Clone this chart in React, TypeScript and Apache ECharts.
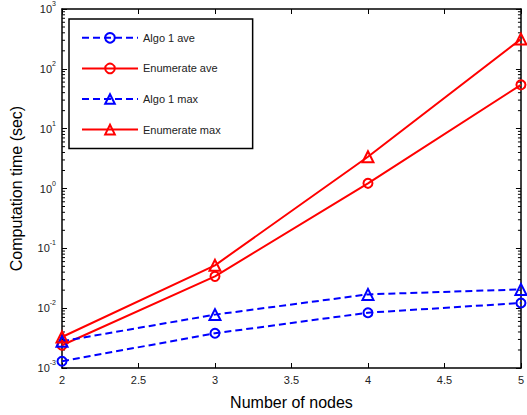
import React, { useEffect, useRef } from "react";
import * as echarts from "echarts";

const nodes = [2, 3, 4, 5];
const algo1Ave = [0.0013, 0.0038, 0.0084, 0.0122];
const enumerateAve = [0.0024, 0.034, 1.22, 54];
const algo1Max = [0.0028, 0.0078, 0.017, 0.0206];
const enumerateMax = [0.0033, 0.052, 3.4, 314];
const decadeExponents = [-3, -2, -1, 0, 1, 2];
const minorMultipliers = [2, 3, 4, 5, 6, 7, 8, 9];

const X_MIN = 2;
const X_MAX = 5;
const Y_MIN = 0.001;
const Y_MAX = 1000;

const FONT = "'Liberation Sans', Arial, Helvetica, sans-serif";
const BLUE = "#0000ff";
const RED = "#ff0000";

export default function App() {
  const ref = useRef<HTMLDivElement>(null);

  useEffect(() => {
    if (!ref.current) return;
    const chart = echarts.init(ref.current, undefined, { renderer: "svg" });

    const minorValues: number[][] = [];
    decadeExponents.forEach((e) => {
      minorMultipliers.forEach((m) => {
        minorValues.push([X_MIN, m * Math.pow(10, e)]);
      });
    });

    const pairs = (ys: number[]) => nodes.map((x, i) => [x, ys[i]]);

    const lineSeries = (
      name: string,
      ys: number[],
      color: string,
      dashed: boolean,
      symbol: string,
      symbolSize: number
    ) => ({
      type: "line",
      name,
      data: pairs(ys),
      xAxisIndex: 0,
      yAxisIndex: 0,
      symbol,
      symbolSize,
      showAllSymbol: true,
      clip: true,
      lineStyle: { color, width: 2, type: dashed ? [7, 4] : "solid" },
      itemStyle: { color: "rgba(255,255,255,0)", borderColor: color, borderWidth: 2 },
      emphasis: { disabled: true },
      z: 3,
    });

    const yLabel = {
      fontFamily: FONT,
      margin: 6,
      formatter: (v: number) => {
        const e = Math.round(Math.log10(v));
        return `{b|10}{s|${e}}`;
      },
      rich: {
        b: { fontSize: 11, color: "#222", fontFamily: FONT, lineHeight: 18 },
        s: { fontSize: 7, color: "#222", fontFamily: FONT, verticalAlign: "top" },
      },
    };

    chart.setOption({
      animation: false,
      textStyle: { fontFamily: FONT },
      grid: { left: 56, right: 2, top: 6, bottom: 39, containLabel: false },
      legend: {
        orient: "vertical",
        left: 69,
        top: 19,
        padding: [13, 32, 13, 12],
        itemWidth: 56,
        itemHeight: 12,
        itemGap: 19,
        borderColor: "#000",
        borderWidth: 1.5,
        backgroundColor: "#fff",
        textStyle: { fontSize: 11, color: "#222", fontFamily: FONT },
        data: ["Algo 1 ave", "Enumerate ave", "Algo 1 max", "Enumerate max"],
        selectedMode: false,
      },
      xAxis: [
        {
          type: "value",
          min: X_MIN,
          max: X_MAX,
          interval: 0.5,
          position: "bottom",
          name: "Number of nodes",
          nameLocation: "middle",
          nameGap: 26,
          nameTextStyle: { fontSize: 16, color: "#000", fontFamily: FONT },
          axisLine: { show: true, onZero: false, lineStyle: { color: "#000", width: 1.5 } },
          axisTick: { show: true, inside: true, length: 5, lineStyle: { color: "#000", width: 1 } },
          axisLabel: { fontSize: 11, color: "#222", margin: 6, fontFamily: FONT },
          splitLine: { show: false },
        },
        {
          type: "value",
          min: X_MIN,
          max: X_MAX,
          interval: 0.5,
          position: "top",
          axisLine: { show: true, onZero: false, lineStyle: { color: "#000", width: 1.5 } },
          axisTick: { show: true, inside: true, length: 5, lineStyle: { color: "#000", width: 1 } },
          axisLabel: { show: false },
          splitLine: { show: false },
        },
      ],
      yAxis: [
        {
          type: "log",
          logBase: 10,
          min: Y_MIN,
          max: Y_MAX,
          splitNumber: 6,
          position: "left",
          name: "Computation time (sec)",
          nameLocation: "middle",
          nameGap: 38,
          nameTextStyle: { fontSize: 16, color: "#000", fontFamily: FONT },
          axisLine: { show: true, onZero: false, lineStyle: { color: "#000", width: 1.5 } },
          axisTick: { show: true, inside: true, length: 5, lineStyle: { color: "#000", width: 1 } },
          axisLabel: yLabel,
          splitLine: { show: false },
        },
        {
          type: "log",
          logBase: 10,
          min: Y_MIN,
          max: Y_MAX,
          splitNumber: 6,
          position: "right",
          axisLine: { show: true, onZero: false, lineStyle: { color: "#000", width: 1.5 } },
          axisTick: { show: true, inside: true, length: 5, lineStyle: { color: "#000", width: 1 } },
          axisLabel: { show: false },
          splitLine: { show: false },
        },
      ],
      series: [
        {
          type: "custom",
          name: "minorTicks",
          xAxisIndex: 0,
          yAxisIndex: 0,
          silent: true,
          z: 1,
          data: minorValues,
          renderItem: (_params: any, api: any) => {
            const v = api.value(1);
            const pl = api.coord([X_MIN, v]);
            const pr = api.coord([X_MAX, v]);
            return {
              type: "group",
              children: [
                {
                  type: "line",
                  shape: { x1: pl[0], y1: pl[1], x2: pl[0] + 3, y2: pl[1] },
                  style: { stroke: "#000", lineWidth: 1 },
                },
                {
                  type: "line",
                  shape: { x1: pr[0] - 3, y1: pr[1], x2: pr[0], y2: pr[1] },
                  style: { stroke: "#000", lineWidth: 1 },
                },
              ],
            };
          },
        },
        lineSeries("Algo 1 ave", algo1Ave, BLUE, true, "circle", 9),
        lineSeries("Enumerate ave", enumerateAve, RED, false, "circle", 9),
        lineSeries("Algo 1 max", algo1Max, BLUE, true, "triangle", 11),
        lineSeries("Enumerate max", enumerateMax, RED, false, "triangle", 11),
      ],
    });

    return () => chart.dispose();
  }, []);

  return (
    <div
      ref={ref}
      style={{ position: "fixed", left: 0, top: 0, width: 527, height: 415, background: "#fff" }}
    />
  );
}
